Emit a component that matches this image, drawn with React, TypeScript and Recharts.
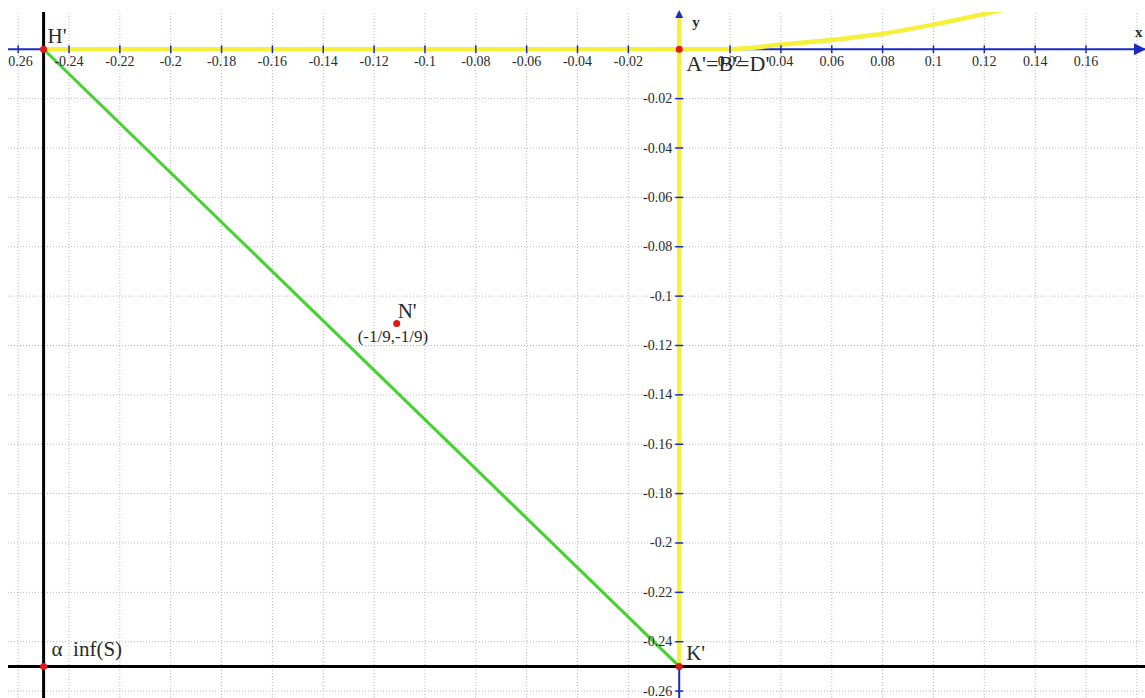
import React from 'react';
import { ComposedChart, XAxis, YAxis, ReferenceLine, Line, Scatter, ReferenceDot } from 'recharts';

// ---- data ----
const X_DOMAIN: [number, number] = [-0.264, 0.1832];
const Y_DOMAIN: [number, number] = [-0.2628, 0.0151];

const gridX = [-0.26, -0.24, -0.22, -0.2, -0.18, -0.16, -0.14, -0.12, -0.1, -0.08, -0.06, -0.04, -0.02, 0, 0.02, 0.04, 0.06, 0.08, 0.1, 0.12, 0.14, 0.16, 0.18];
const gridY = [0, -0.02, -0.04, -0.06, -0.08, -0.1, -0.12, -0.14, -0.16, -0.18, -0.2, -0.22, -0.24, -0.26];

const xTickValues = [-0.26, -0.24, -0.22, -0.2, -0.18, -0.16, -0.14, -0.12, -0.1, -0.08, -0.06, -0.04, -0.02, 0.02, 0.04, 0.06, 0.08, 0.1, 0.12, 0.14, 0.16];
const xTickLabels = ['-0.26', '-0.24', '-0.22', '-0.2', '-0.18', '-0.16', '-0.14', '-0.12', '-0.1', '-0.08', '-0.06', '-0.04', '-0.02', '0.02', '0.04', '0.06', '0.08', '0.1', '0.12', '0.14', '0.16'];

const yTickValues = [-0.02, -0.04, -0.06, -0.08, -0.1, -0.12, -0.14, -0.16, -0.18, -0.2, -0.22, -0.24, -0.26];
const yTickLabels = ['-0.02', '-0.04', '-0.06', '-0.08', '-0.1', '-0.12', '-0.14', '-0.16', '-0.18', '-0.2', '-0.22', '-0.24', '-0.26'];

// yellow set: horizontal piece, vertical piece, rising curve
const yellowHorizontal = [{ x: -0.25, y: 0 }, { x: 0.02, y: 0 }];
const yellowVerticalBottom = -0.25;
const yellowCurve = [
  { x: 0.02, y: 0 },
  { x: 0.03, y: 0.0007 },
  { x: 0.04, y: 0.0019 },
  { x: 0.06, y: 0.0038 },
  { x: 0.08, y: 0.0063 },
  { x: 0.1, y: 0.0100 },
  { x: 0.12, y: 0.0143 },
  { x: 0.13, y: 0.0166 },
];

// green segment H' -> K'
const greenSegment = [{ x: -0.25, y: 0 }, { x: 0, y: -0.25 }];

// black lines
const blackX = -0.25;
const blackY = -0.25;

// labelled points
const pointNames = ["H'", "A'=B'=D'", "K'", 'α  inf(S)', "N'"];
const pointX = [-0.25, 0, 0, -0.25, -1 / 9];
const pointY = [0, 0, -0.25, -0.25, -1 / 9];
const pointCaptions = ['', '', '', '', '(-1/9,-1/9)'];

// ---- styles (kept apart from data) ----
const SERIF = "'Liberation Serif', 'Times New Roman', 'DejaVu Serif', serif";
const AXIS = '#1a2cc0';
const YELLOW = '#f6f03a';
const GREEN = '#42d42c';
const GRID = '#b8b8cc';
const RED = '#e01818';
const TEXT = '#2a2a2a';

const labelStyle: Record<string, { dx: number; dy: number; size: number }> = {
  "H'": { dx: 4, dy: -6, size: 21 },
  "A'=B'=D'": { dx: 7, dy: 22, size: 22 },
  "K'": { dx: 7, dy: -6, size: 21 },
  'α  inf(S)': { dx: 8, dy: -10, size: 21 },
  "N'": { dx: 1, dy: -6, size: 21 },
};
const captionStyle = { dx: -39, dy: 18, size: 17 };

const xTicks = xTickValues.map((v, i) => ({ x: v, y: 0, label: xTickLabels[i] }));
const yTicks = yTickValues.map((v, i) => ({ x: 0, y: v, label: yTickLabels[i] }));
const points = pointNames.map((n, i) => ({ x: pointX[i], y: pointY[i], name: n, caption: pointCaptions[i] }));

const serifStyle = { fontFamily: SERIF };

const XTickShape = (p: any) => {
  const { cx, cy, payload } = p;
  return (
    <g>
      <line x1={cx} x2={cx} y1={cy - 4} y2={cy + 4} stroke={AXIS} strokeWidth={1.5} />
      <text x={cx} y={cy + 17} textAnchor="middle" fontSize={14} style={serifStyle} fill={TEXT}>
        {payload.label}
      </text>
    </g>
  );
};

const YTickShape = (p: any) => {
  const { cx, cy, payload } = p;
  return (
    <g>
      <line x1={cx - 4} x2={cx + 4} y1={cy} y2={cy} stroke={AXIS} strokeWidth={1.5} />
      <text x={cx - 7} y={cy + 4.5} textAnchor="end" fontSize={14} style={serifStyle} fill={TEXT}>
        {payload.label}
      </text>
    </g>
  );
};

const PointShape = (p: any) => {
  const { cx, cy, payload } = p;
  const s = labelStyle[payload.name];
  return (
    <g>
      <circle cx={cx} cy={cy} r={3.5} fill={RED} />
      <text x={cx + s.dx} y={cy + s.dy} fontSize={s.size} fill={TEXT} style={{ ...serifStyle, whiteSpace: 'pre' }}>
        {payload.name}
      </text>
      {payload.caption ? (
        <text x={cx + captionStyle.dx} y={cy + captionStyle.dy} fontSize={captionStyle.size} style={serifStyle} fill={TEXT}>
          {payload.caption}
        </text>
      ) : null}
    </g>
  );
};

const XArrow = (p: any) => {
  const { cx, cy } = p;
  return (
    <g>
      <polygon points={`${cx + 1},${cy} ${cx - 11},${cy - 6} ${cx - 11},${cy + 6}`} fill={AXIS} />
      <text x={cx - 10} y={cy - 12} fontSize={15} fontWeight="bold" style={serifStyle} fill={TEXT}>x</text>
    </g>
  );
};

const YArrow = (p: any) => {
  const { cx, cy } = p;
  return (
    <g>
      <polygon points={`${cx},${cy - 2} ${cx - 4},${cy + 6} ${cx + 4},${cy + 6}`} fill={AXIS} />
      <text x={cx + 13} y={cy + 15} fontSize={15} fontWeight="bold" style={serifStyle} fill={TEXT}>y</text>
    </g>
  );
};

export default function App() {
  return (
    <div style={{ position: 'absolute', left: 0, top: 0, width: 1145, height: 698, background: '#fff' }}>
      <ComposedChart width={1145} height={698} margin={{ top: 12, left: 8, right: 0, bottom: 0 }}>
        <XAxis type="number" dataKey="x" domain={X_DOMAIN} hide allowDataOverflow />
        <YAxis type="number" dataKey="y" domain={Y_DOMAIN} hide allowDataOverflow />

        {gridX.map((v) => (
          <ReferenceLine key={'gx' + v} x={v} stroke={GRID} strokeDasharray="1 2" strokeWidth={1} />
        ))}
        {gridY.map((v) => (
          <ReferenceLine key={'gy' + v} y={v} stroke={GRID} strokeDasharray="1 2" strokeWidth={1} />
        ))}

        {/* axes */}
        <ReferenceLine y={0} stroke={AXIS} strokeWidth={2} />
        <ReferenceLine x={0} stroke={AXIS} strokeWidth={2} />

        {/* yellow */}
        <ReferenceLine segment={yellowHorizontal} stroke={YELLOW} strokeWidth={4.5} />
        <ReferenceLine segment={[{ x: 0, y: Y_DOMAIN[1] }, { x: 0, y: yellowVerticalBottom }]} stroke={YELLOW} strokeWidth={4.5} />

        {/* black */}
        <ReferenceLine x={blackX} stroke="#000" strokeWidth={3} />
        <ReferenceLine y={blackY} stroke="#000" strokeWidth={3} />

        {/* green */}
        <ReferenceLine segment={greenSegment} stroke={GREEN} strokeWidth={3} />

        <Line data={yellowCurve} dataKey="y" type="monotone" stroke={YELLOW} strokeWidth={4.5} dot={false} isAnimationActive={false} />

        <Scatter data={xTicks} shape={XTickShape} isAnimationActive={false} />
        <Scatter data={yTicks} shape={YTickShape} isAnimationActive={false} />

        <ReferenceDot x={X_DOMAIN[1]} y={0} ifOverflow="visible" shape={XArrow} />
        <ReferenceDot x={0} y={Y_DOMAIN[1]} ifOverflow="visible" shape={YArrow} />

        <Scatter data={points} shape={PointShape} isAnimationActive={false} />
      </ComposedChart>
    </div>
  );
}
